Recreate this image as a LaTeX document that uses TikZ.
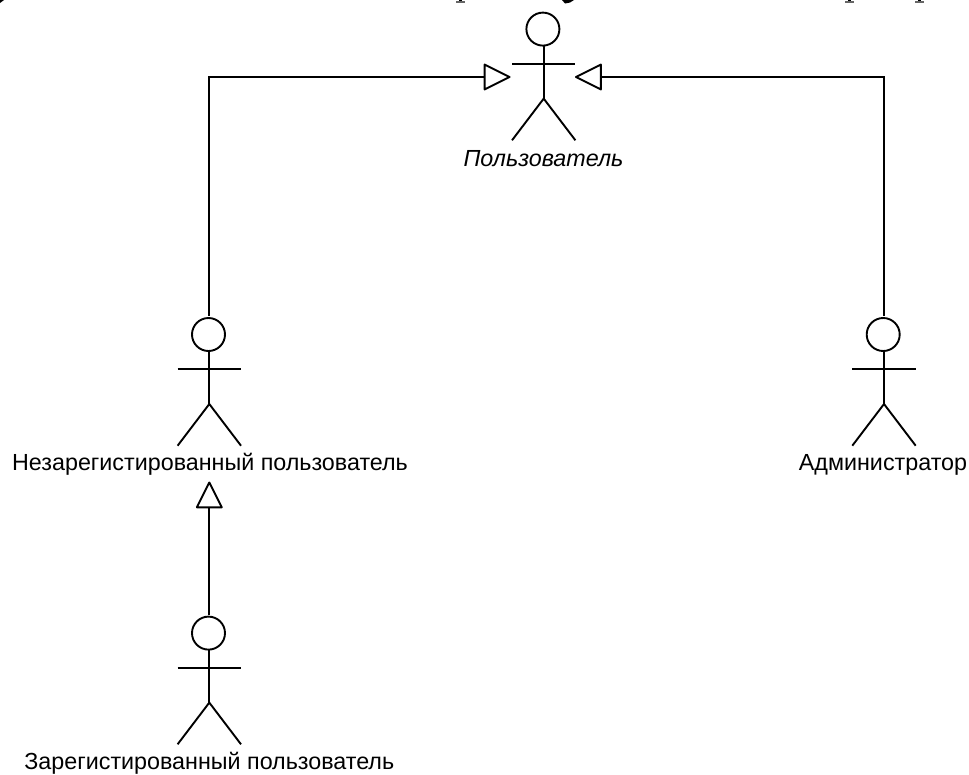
\documentclass[tikz,border=0pt]{standalone}
\usepackage{fontspec}
\setmainfont{Liberation Sans}
\usetikzlibrary{arrows.meta}
\tikzset{
  x=1pt,y=-1pt,
  ink/.style={line width=1.9pt,black},
  gen/.style={ink,-{Triangle[open,length=28pt,width=27.5pt,line width=1.9pt,round]}},
  head/.style={ink,draw,circle,inner sep=0pt,minimum size=33pt,outer sep=0pt},
  lab/.style={font=\fontsize{23.3pt}{25pt}\selectfont,anchor=base,inner sep=0pt},
}
\newcommand{\drawactor}[3]{%
  \node[head] (#1) at (#2-0.8,#3+16.5) {};
  \coordinate (#1-top) at (#2,#3-2);
  \coordinate (#1-hip) at (#2,#3+86);
  \draw[ink] (#1.south -| #1-hip) -- (#1-hip);
  \draw[ink] (#2-31.7,#3+51.2) -- (#2+31.7,#3+51.2);
  \draw[ink] (#2-31.7,#3+127.7) -- (#1-hip) -- (#2+31.7,#3+127.7);
}
\begin{document}
\begin{tikzpicture}
\useasboundingbox (0,0) rectangle (969,774);
% clipped text line at the top edge
\fill (0,3) -- (4,0) -- (0,0) -- cycle;
\foreach \px in {460,849,919}{
  \fill (\px-1.5,0) rectangle (\px+1.5,2);
  \fill[black!60] (\px-4.5,1.4) rectangle (\px+4.5,2.8);
}
\fill (562,0) -- (574,0) -- (570,2.5) -- (565,3.5) -- cycle;
\drawactor{user}{543.7}{12.6}
\drawactor{guest}{209.3}{318}
\drawactor{admin}{884}{318}
\drawactor{reg}{209.3}{616.6}
\node[lab,font=\fontsize{23.3pt}{25pt}\selectfont\itshape] (userlab) at (543.5,166) {Пользователь};
\node[lab] (guestlab) at (210,470.7) {Незарегистированный пользователь};
\node[lab] (adminlab) at (883,470.7) {Администратор};
\node[lab] (reglab) at (209.3,769) {Зарегистированный пользователь};
\coordinate (tipL) at (510.5,77);
\coordinate (tipR) at (575,77);
\coordinate (tipG) at (209.3,481.5);
\draw[gen] (guest-top) |- (tipL);
\draw[gen] (admin-top) |- (tipR);
\draw[gen] (reg-top) -- (tipG);
\end{tikzpicture}
\end{document}
